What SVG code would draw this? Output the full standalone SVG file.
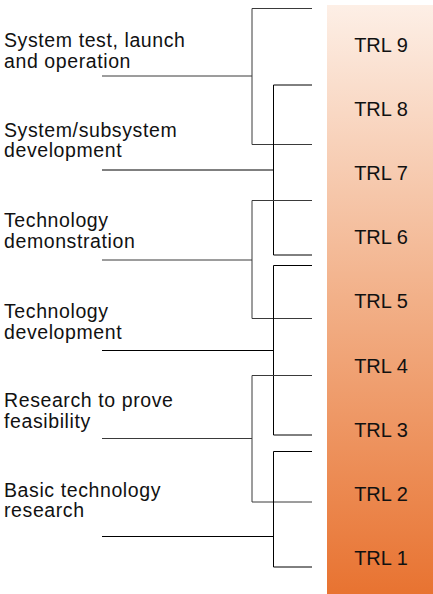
<svg xmlns="http://www.w3.org/2000/svg" width="433" height="594" viewBox="0 0 433 594">
<defs>
<linearGradient id="bar" x1="0" y1="0" x2="0" y2="1">
<stop offset="0" stop-color="#fdefe6"/>
<stop offset="0.5" stop-color="#f2b088"/>
<stop offset="1" stop-color="#e87331"/>
</linearGradient>
</defs>
<style>
.lbl{font-family:"Liberation Sans",Arial,sans-serif;font-size:19.5px;letter-spacing:0.6px;fill:#111}
.trl{font-family:"Liberation Sans",Arial,sans-serif;font-size:20px;fill:#111;text-anchor:middle}
.g{fill:none;stroke:#3a3a3a;stroke-width:1}
.b{fill:none;stroke:#000;stroke-width:1}
</style>
<rect width="433" height="594" fill="#fff"/>
<g id="scale">
<rect x="327" y="5" width="106" height="589" fill="url(#bar)"/>
<text class="trl" x="381" y="51.7">TRL 9</text>
<text class="trl" x="381" y="116">TRL 8</text>
<text class="trl" x="381" y="180">TRL 7</text>
<text class="trl" x="381" y="244.2">TRL 6</text>
<text class="trl" x="381" y="308.4">TRL 5</text>
<text class="trl" x="381" y="372.6">TRL 4</text>
<text class="trl" x="381" y="436.7">TRL 3</text>
<text class="trl" x="381" y="500.8">TRL 2</text>
<text class="trl" x="381" y="565">TRL 1</text>
</g>
<g id="stage-system-test"><text class="lbl" x="4" y="46.7">System test, launch</text><text class="lbl" x="4" y="67.7">and operation</text></g>
<g id="stage-system-dev"><text class="lbl" x="4" y="136.7">System/subsystem</text><text class="lbl" x="4" y="157.3">development</text></g>
<g id="stage-tech-demo"><text class="lbl" x="4" y="226.7">Technology</text><text class="lbl" x="4" y="248">demonstration</text></g>
<g id="stage-tech-dev"><text class="lbl" x="4" y="317.7">Technology</text><text class="lbl" x="4" y="339">development</text></g>
<g id="stage-research"><text class="lbl" x="4" y="407.3">Research to prove</text><text class="lbl" x="4" y="428.3">feasibility</text></g>
<g id="stage-basic"><text class="lbl" x="4" y="496.7">Basic technology</text><text class="lbl" x="4" y="517">research</text></g>
<g id="connectors">
<path class="g" d="M312,8.5 H252 V144.5 H312 M102,76 H252"/>
<path class="b" d="M312,85 H273.5 V255 H312 M102,170 H273.5"/>
<path class="g" d="M312,200.5 H252 V318.5 H312 M102,260 H252"/>
<path class="b" d="M312,265.5 H273.5 V435 H312 M102,350.5 H273.5"/>
<path class="g" d="M312,375.5 H252 V502 H312 M102,438.5 H252"/>
<path class="b" d="M312,451.5 H273.5 V567 H312 M102,536.5 H273.5"/>
</g>
</svg>
